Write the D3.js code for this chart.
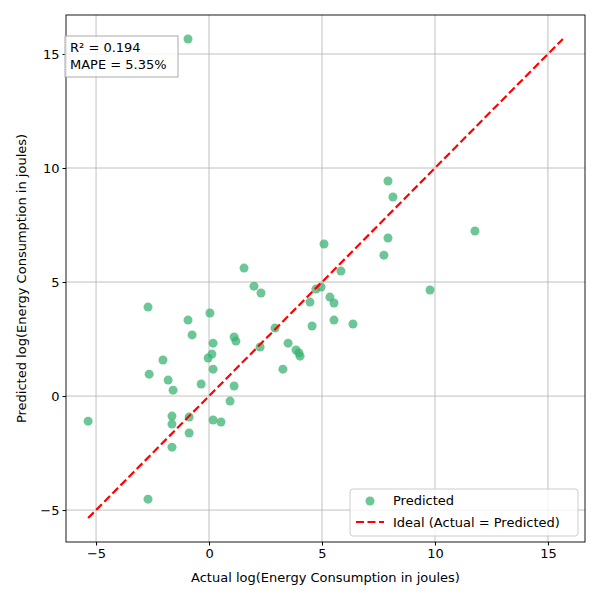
<!DOCTYPE html>
<html><head><meta charset="utf-8">
<script src="https://cdn.jsdelivr.net/npm/d3@7"></script>
<style>body{margin:0;background:#fff}text{font-family:"DejaVu Sans",sans-serif}</style>
</head><body><svg id="chart" width="600" height="600"></svg>
<script>
var actual = [-5.35,-0.93,-2.70,-2.65,-2.70,-2.04,-1.81,-1.59,-1.64,-1.64,-1.64,-0.93,-0.75,-0.88,-0.88,-0.35,0.04,-0.04,0.18,0.13,0.18,0.18,0.53,0.93,1.11,1.19,1.11,1.55,1.99,2.30,2.26,2.92,3.27,3.50,3.85,3.98,4.03,4.47,4.56,4.73,4.96,5.09,5.35,5.53,5.53,5.84,6.37,7.74,7.92,7.92,8.14,9.78,11.77];
var predicted = [-1.10,15.66,3.90,0.96,-4.52,1.58,0.70,0.26,-0.88,-1.23,-2.24,3.33,2.68,-0.92,-1.62,0.53,3.64,1.67,2.32,1.84,1.18,-1.05,-1.14,-0.22,2.59,2.41,0.44,5.61,4.82,4.52,2.15,2.98,1.18,2.32,2.02,1.89,1.75,4.12,3.07,4.69,4.78,6.67,4.34,4.08,3.33,5.48,3.16,6.18,9.43,6.93,8.73,4.65,7.24];
var xTicks = [-5,0,5,10,15], yTicks = [-5,0,5,10,15];
var statsText = ["R\u00b2 = 0.194", "MAPE = 5.35%"];

var svg = d3.select("#chart");
var L = 66, R = 585, T = 15, B = 542;
var x = d3.scaleLinear().domain([-6.33, 16.64]).range([L, R]);
var y = d3.scaleLinear().domain([-6.4, 16.71]).range([B, T]);

var g = svg.append("g");
// grid
g.selectAll(".gx").data(xTicks).enter().append("line")
  .attr("x1", d => x(d)).attr("x2", d => x(d)).attr("y1", T).attr("y2", B)
  .attr("stroke", "#b0b0b0").attr("stroke-width", 0.8);
g.selectAll(".gy").data(yTicks).enter().append("line")
  .attr("y1", d => y(d)).attr("y2", d => y(d)).attr("x1", L).attr("x2", R)
  .attr("stroke", "#b0b0b0").attr("stroke-width", 0.8);

// axes
var fmt = d => d < 0 ? "\u2212" + Math.abs(d) : d;
svg.append("g").attr("transform", "translate(0," + B + ")")
  .call(d3.axisBottom(x).tickValues(xTicks).tickFormat(fmt).tickSize(3.5).tickPadding(3))
  .call(a => a.select(".domain").remove())
  .selectAll("text").attr("font-size", 13).attr("fill", "#000");
svg.append("g").attr("transform", "translate(" + L + ",0)")
  .call(d3.axisLeft(y).tickValues(yTicks).tickFormat(fmt).tickSize(3.5).tickPadding(3))
  .call(a => a.select(".domain").remove())
  .selectAll("text").attr("font-size", 13).attr("fill", "#000");

// points
var pts = actual.map((a, i) => [a, predicted[i]]);
svg.selectAll(".pt").data(pts).enter().append("circle")
  .attr("cx", d => x(d[0])).attr("cy", d => y(d[1])).attr("r", 4.5)
  .attr("fill", "#3cb371").attr("fill-opacity", 0.75);

// ideal line
var lo = Math.min(d3.min(actual), d3.min(predicted)), hi = Math.max(d3.max(actual), d3.max(predicted));
svg.append("line").attr("x1", x(lo)).attr("y1", y(lo)).attr("x2", x(hi)).attr("y2", y(hi))
  .attr("stroke", "red").attr("stroke-width", 2.2).attr("stroke-dasharray", "8,3.5");

// frame
svg.append("rect").attr("x", L).attr("y", T).attr("width", R - L).attr("height", B - T)
  .attr("fill", "none").attr("stroke", "#000").attr("stroke-width", 0.9);

// labels
svg.append("text").attr("x", (L + R) / 2).attr("y", 582).attr("text-anchor", "middle")
  .attr("font-size", 13).text("Actual log(Energy Consumption in joules)");
svg.append("text").attr("transform", "translate(26," + (T + B) / 2 + ") rotate(-90)")
  .attr("text-anchor", "middle").attr("font-size", 13).text("Predicted log(Energy Consumption in joules)");

// stats box
svg.append("rect").attr("x", 65).attr("y", 36).attr("width", 113).attr("height", 41)
  .attr("fill", "#fff").attr("fill-opacity", 0.8).attr("stroke", "#aaa");
svg.selectAll(".st").data(statsText).enter().append("text")
  .attr("x", 70).attr("y", (d, i) => 52 + i * 17).attr("font-size", 13).text(d => d);

// legend
svg.append("rect").attr("x", 350).attr("y", 489).attr("width", 228).attr("height", 47).attr("rx", 3)
  .attr("fill", "#fff").attr("fill-opacity", 0.8).attr("stroke", "#ccc");
svg.append("circle").attr("cx", 370).attr("cy", 501).attr("r", 4.5).attr("fill", "#3cb371").attr("fill-opacity", 0.75);
svg.append("text").attr("x", 393).attr("y", 505).attr("font-size", 13).text("Predicted");
svg.append("line").attr("x1", 356).attr("x2", 384).attr("y1", 522).attr("y2", 522)
  .attr("stroke", "red").attr("stroke-width", 2.2).attr("stroke-dasharray", "8,3.5");
svg.append("text").attr("x", 393).attr("y", 527).attr("font-size", 13).text("Ideal (Actual = Predicted)");
</script></body></html>
